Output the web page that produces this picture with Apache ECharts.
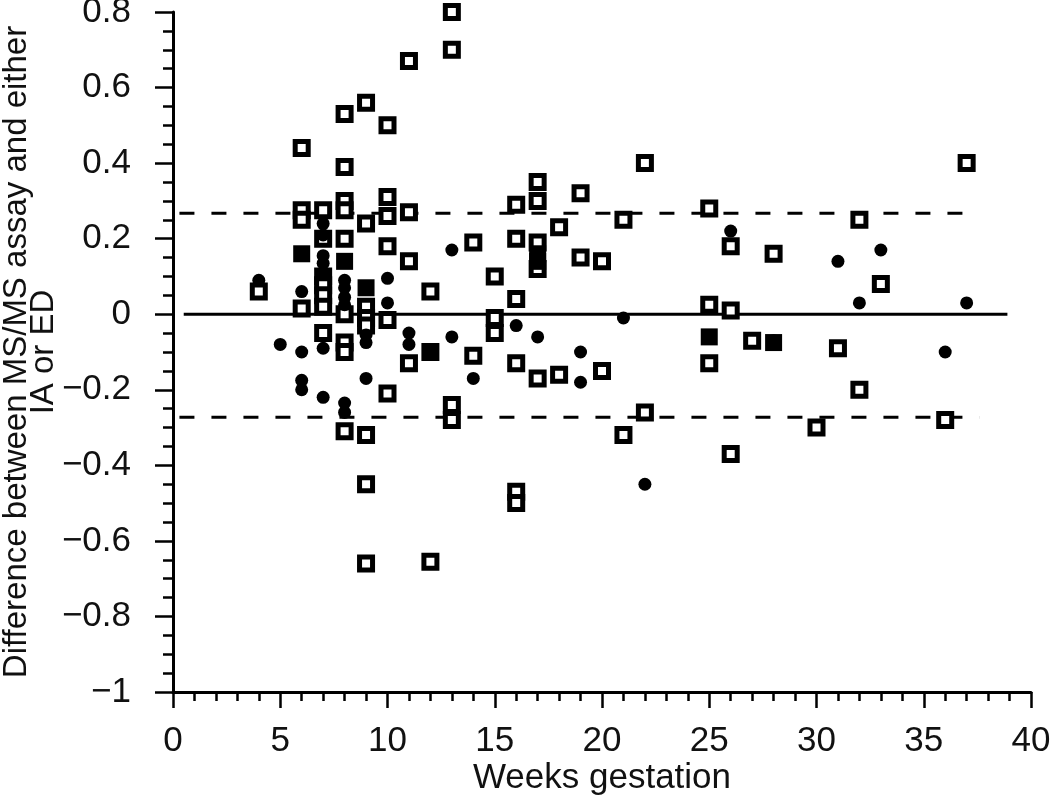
<!DOCTYPE html>
<html>
<head>
<meta charset="utf-8">
<script src="https://cdn.jsdelivr.net/npm/echarts@6/dist/echarts.min.js"></script>
<style>html,body{margin:0;padding:0;background:#fff;}#c{width:1050px;height:803px;}</style>
</head>
<body>
<div id="c"></div>
<script>
// Weeks gestation vs difference (open squares)
const openSquares = [
  [4,0.06],
  [6,0.44],[6,0.275],[6,0.25],[6,0.015],
  [7,0.275],[7,0.20],[7,0.10],[7,0.077],[7,0.05],[7,0.02],[7,-0.05],
  [8,0.53],[8,0.39],[8,0.30],[8,0.275],[8,0.20],[8,0.0],[8,-0.075],[8,-0.10],[8,-0.31],
  [9,0.56],[9,0.24],[9,0.02],[9,-0.01],[9,-0.03],[9,-0.32],[9,-0.45],[9,-0.66],
  [10,0.50],[10,0.31],[10,0.26],[10,0.18],[10,-0.015],[10,-0.21],
  [11,0.67],[11,0.27],[11,0.14],[11,-0.13],
  [12,0.06],[12,-0.10],[12,-0.655],
  [13,0.80],[13,0.70],[13,-0.24],[13,-0.28],
  [14,0.19],[14,-0.11],
  [15,0.10],[15,-0.01],[15,-0.05],
  [16,0.29],[16,0.20],[16,0.04],[16,-0.13],[16,-0.47],[16,-0.50],
  [17,0.35],[17,0.30],[17,0.19],[17,0.12],[17,-0.17],
  [18,0.23],[18,-0.16],
  [19,0.32],[19,0.15],
  [20,0.14],[20,-0.15],
  [21,0.25],[21,-0.32],
  [22,0.40],[22,-0.26],
  [25,0.28],[25,0.025],[25,-0.13],
  [26,0.18],[26,0.01],[26,-0.37],
  [27,-0.07],
  [28,0.16],
  [30,-0.30],
  [31,-0.09],
  [32,0.25],[32,-0.20],
  [33,0.08],
  [36,-0.28],
  [37,0.40]
];
// Filled circles
const filledCircles = [
  [4,0.09],
  [5,-0.08],
  [6,0.06],[6,-0.10],[6,-0.175],[6,-0.20],
  [7,0.24],[7,0.21],[7,0.155],[7,0.135],[7,0.11],[7,-0.09],[7,-0.22],
  [8,0.09],[8,0.07],[8,0.045],[8,0.025],[8,-0.235],[8,-0.26],
  [9,-0.055],[9,-0.075],[9,-0.17],
  [10,0.095],[10,0.03],
  [11,-0.05],[11,-0.08],
  [12,-0.10],
  [13,0.17],[13,-0.06],
  [14,-0.17],
  [16,-0.03],
  [17,-0.06],
  [19,-0.10],[19,-0.18],
  [21,-0.01],
  [22,-0.45],
  [26,0.22],
  [28,-0.07],
  [31,0.14],
  [32,0.03],
  [33,0.17],
  [36,-0.10],
  [37,0.03]
];
// Filled squares
const filledSquares = [
  [6,0.16],[8,0.14],[9,0.07],[17,0.16],[17,0.14],[25,-0.06],[28,-0.075]
];
// Reference lines
const meanLine = [[0.5,0],[38.9,0]];
const upperLimit = [[0.3,0.267],[37.3,0.267]];
const lowerLimit = [[0.3,-0.273],[37.6,-0.273]];
const xTicks = {min:0, max:40, step:5};
const yTicks = {min:-1, max:0.8, step:0.2};

const font = '"Liberation Sans", Arial, sans-serif';
const chart = echarts.init(document.getElementById('c'), null, {renderer:'canvas'});
chart.setOption({
  animation:false,
  backgroundColor:'#fff',
  grid:{left:173, right:19, top:12, bottom:111, containLabel:false, outerBoundsMode:'none'},
  xAxis:{
    type:'value', min:xTicks.min, max:xTicks.max, interval:xTicks.step,
    name:'Weeks gestation', nameLocation:'middle', nameGap:69, nameMoveOverlap:false,
    nameTextStyle:{fontFamily:font, fontSize:35, color:'#111'},
    axisLine:{show:true, onZero:false, lineStyle:{color:'#000', width:3}},
    axisTick:{show:true, inside:false, length:16, lineStyle:{color:'#000', width:2.5}},
    minorTick:{show:true, splitNumber:5, length:9, lineStyle:{color:'#000', width:2.5}},
    splitLine:{show:false},
    axisLabel:{fontFamily:font, fontSize:35, color:'#111', margin:32}
  },
  yAxis:{
    type:'value', min:yTicks.min, max:yTicks.max, interval:yTicks.step,
    name:'Difference between MS/MS assay and either\nIA or ED', nameLocation:'middle', nameGap:116, nameMoveOverlap:false,
    nameTextStyle:{fontFamily:font, fontSize:33, color:'#111', lineHeight:27},
    axisLine:{show:true, onZero:false, lineStyle:{color:'#000', width:3}},
    axisTick:{show:true, inside:false, length:18, lineStyle:{color:'#000', width:2.5}},
    minorTick:{show:true, splitNumber:4, length:10, lineStyle:{color:'#000', width:2.5}},
    splitLine:{show:false},
    axisLabel:{fontFamily:font, fontSize:35, color:'#111', margin:42,
      formatter:function(v){ const r=Math.round(v*10)/10; return r<0 ? '\u2212'+String(Math.abs(r)) : String(r); }}
  },
  series:[
    {type:'line', data:meanLine, symbol:'none', lineStyle:{color:'#000', width:3}, z:1},
    {type:'line', data:upperLimit, symbol:'none', lineStyle:{color:'#000', width:3, type:[15,17]}, z:1},
    {type:'line', data:lowerLimit, symbol:'none', lineStyle:{color:'#000', width:3, type:[15,17]}, z:1},
    {type:'scatter', data:openSquares, symbol:'rect', symbolSize:13,
      itemStyle:{color:'#fff', borderColor:'#000', borderWidth:5, opacity:1}, z:2},
    {type:'scatter', data:filledSquares, symbol:'rect', symbolSize:17,
      itemStyle:{color:'#000', opacity:1}, z:3},
    {type:'scatter', data:filledCircles, symbol:'circle', symbolSize:13,
      itemStyle:{color:'#000', opacity:1}, z:4}
  ]
});
</script>
</body>
</html>
